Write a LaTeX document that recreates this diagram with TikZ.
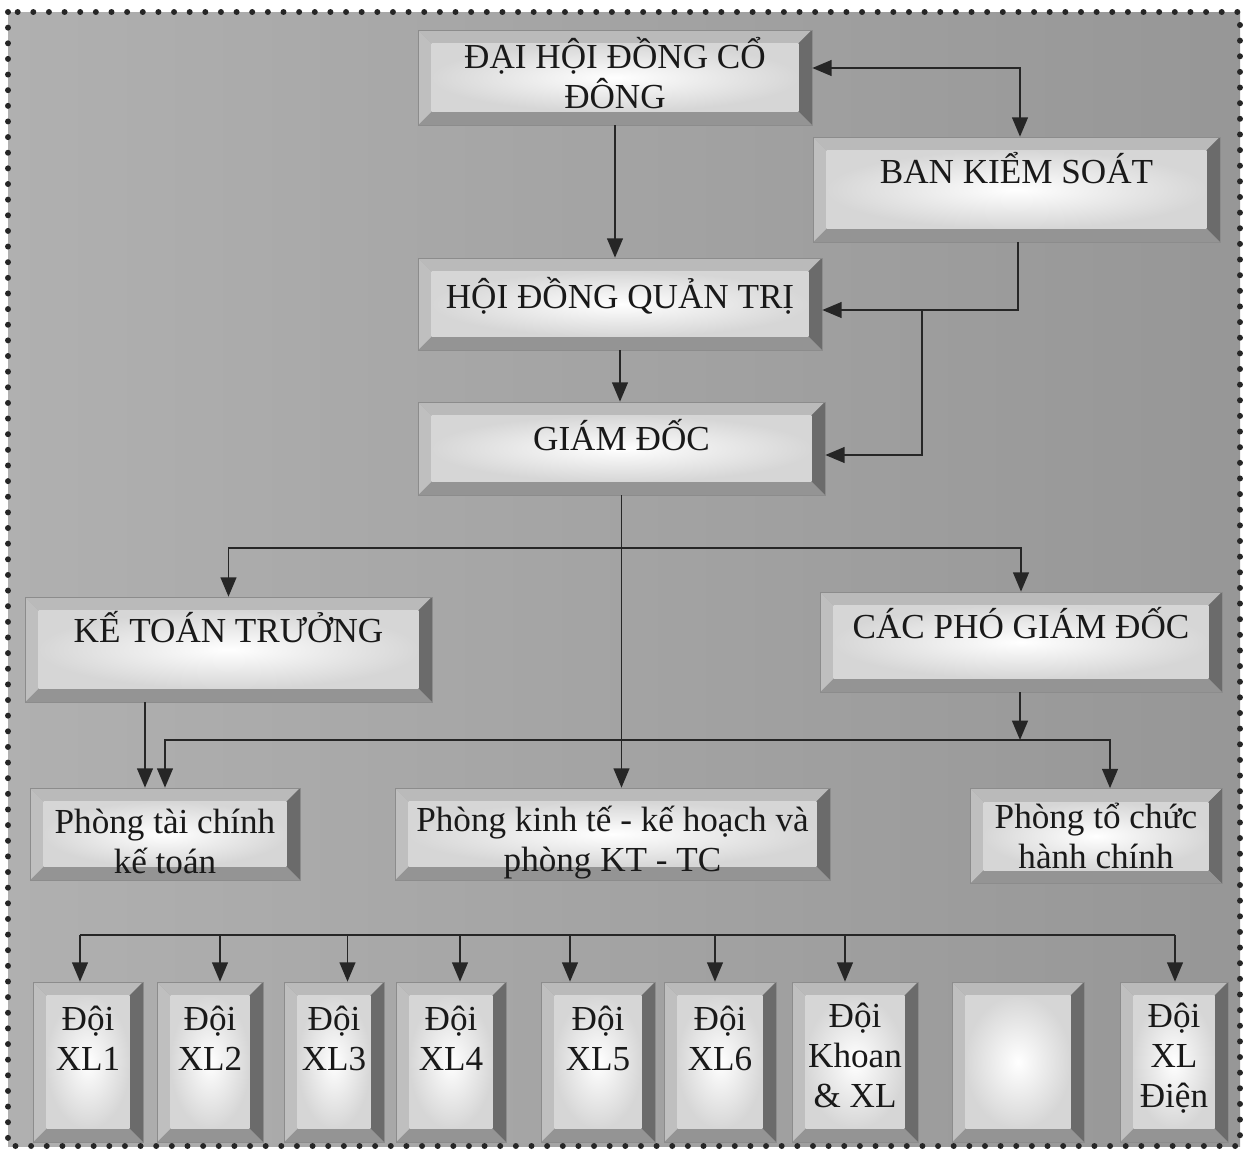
\documentclass[tikz,border=0pt]{standalone}
\usepackage{fontspec}
\setmainfont{Liberation Serif}
\usetikzlibrary{positioning, calc, arrows.meta, shadings}
\tikzstyle{Line} = [line width=1pt, draw=black!85]
\tikzstyle{Arrow} = [
%filled heads of the chart connectors
Line,
-{Triangle[length=11pt, width=9pt]}
]
\tikzstyle{DArrow} = [Line, {Triangle[length=11pt, width=9pt]}-{Triangle[length=11pt, width=9pt]}]
\newcommand{\bevw}{0.27cm}

\begin{document}
\begin{tikzpicture}[x=0.02cm, y=-0.02cm,
		panel/.style = {rectangle, draw=black!45, fill=black!40, inner sep=0pt, align=center,
			font=\fontsize{20}{22.7}\selectfont, text=black!90,
			path picture={
				\coordinate (pSW) at (path picture bounding box.south west);
				\coordinate (pNE) at (path picture bounding box.north east);
				\coordinate (pNW) at (path picture bounding box.north west);
				\coordinate (pSE) at (path picture bounding box.south east);
				% bevel faces
				\fill[black!27] (pNW) -- (pNE) -- ([shift={(-\bevw,-\bevw)}]pNE) -- ([shift={(\bevw,-\bevw)}]pNW) -- cycle;
				\fill[black!58] (pNE) -- (pSE) -- ([shift={(-\bevw,\bevw)}]pSE) -- ([shift={(-\bevw,-\bevw)}]pNE) -- cycle;
				\fill[black!42] (pSE) -- (pSW) -- ([shift={(\bevw,\bevw)}]pSW) -- ([shift={(-\bevw,\bevw)}]pSE) -- cycle;
				\fill[black!25] (pSW) -- (pNW) -- ([shift={(\bevw,-\bevw)}]pNW) -- ([shift={(\bevw,\bevw)}]pSW) -- cycle;
				\shade[inner color=white, outer color=black!16] ([shift={(\bevw,\bevw)}]pSW) rectangle ([shift={(-\bevw,-\bevw)}]pNE);
			}},
		two/.style = {panel, minimum height=1.84cm, text height=1.6cm},
		team/.style = {panel, minimum height=3.2cm, text height=1.6cm, text depth=1.28cm},
		team3/.style = {team, text height=2.4cm, text depth=0.6cm},
	]
	\useasboundingbox (0,0) rectangle (1248,1154);
	\shade[left color=black!31, middle color=black!46, right color=black!41] (8,12) rectangle (1240,1146);
	\draw[black!85, line width=3.4pt, dash pattern=on 0pt off 8.9pt, line cap=round] (8,12) rectangle (1240,1146);

	\node[panel, minimum width=7.88cm, minimum height=1.9cm, text height=1.4cm, text depth=0.18cm](DH) at (615,77.5){ĐẠI HỘI ĐỒNG CỔ\\ĐÔNG};
	\node[panel, minimum width=8.14cm, minimum height=2.1cm, text height=0.6cm, text depth=0.86cm](BK) at (1016.5,189.5){BAN KIỂM SOÁT};
	\node[panel, minimum width=8.08cm, minimum height=1.84cm, text height=0.6cm, text depth=0.44cm](HQ) at (620,304){HỘI ĐỒNG QUẢN TRỊ};
	\node[panel, minimum width=8.14cm, minimum height=1.86cm, text height=0.6cm, text depth=0.54cm](GD) at (621.5,448.5){GIÁM ĐỐC};
	\node[panel, minimum width=8.14cm, minimum height=2.1cm, text height=0.6cm, text depth=0.9cm](KT) at (228.5,649.5){KẾ TOÁN TRƯỞNG};
	\node[panel, minimum width=8.04cm, minimum height=2cm, text height=0.6cm, text depth=0.76cm](PG) at (1021,642){CÁC PHÓ GIÁM ĐỐC};
	\node[two, minimum width=5.4cm, text depth=0.02cm](TC) at (165,834){Phòng tài chính\\kế toán};
	\node[two, minimum width=8.7cm, text depth=0.12cm](KH) at (612.5,834){Phòng kinh tế - kế hoạch và\\phòng KT - TC};
	\node[two, minimum width=5.04cm, text depth=0.3cm](HC) at (1096,836){Phòng tổ chức\\hành chính};

	\node[team, minimum width=2.2cm](D1) at (88,1062){Đội\\XL1};
	\node[team, minimum width=2.12cm](D2) at (210,1062){Đội\\XL2};
	\node[team, minimum width=2cm](D3) at (334,1062){Đội\\XL3};
	\node[team, minimum width=2.2cm](D4) at (451,1062){Đội\\XL4};
	\node[team, minimum width=2.28cm](D5) at (598,1062){Đội\\XL5};
	\node[team, minimum width=2.24cm](D6) at (720,1062){Đội\\XL6};
	\node[team3, minimum width=2.52cm](D7) at (855,1062){Đội\\Khoan\\\& XL};
	\node[team, minimum width=2.64cm](D8) at (1018,1062){};
	\node[team3, minimum width=2.16cm](D9) at (1174,1062){Đội\\XL\\Điện};

	\coordinate (k1) at (1020,68);
	\coordinate (k2) at (1018,310);
	\coordinate (k3) at (922,455);
	\coordinate (m1) at (622,548);
	\coordinate (n1) at (145,702);
	\coordinate (p1) at (1020,740);
	\coordinate (q1) at (80,935);
	\coordinate (q2) at (1175,935);

	\draw[DArrow](DH.east |- k1)--(k1)--(k1 |- BK.north);
	\draw[Arrow](DH.south)--(DH.south |- HQ.north);
	\draw[Arrow](BK.south -| k2)--(k2)--(k2 -| HQ.east);
	\draw[Arrow](k3 |- k2)--(k3)--(k3 -| GD.east);
	\draw[Arrow](HQ.south)--(HQ.south |- GD.north);
	\draw[Arrow](GD.south)--(GD.south |- KH.north);
	\draw[Arrow](GD.south |- m1)-|(KT.north);
	\draw[Arrow](GD.south |- m1)-|(PG.north);
	\draw[Arrow](n1 |- KT.south)--(n1 |- TC.north);
	\draw[Arrow](PG.south -| p1)--(p1);
	\draw[Arrow](p1)-|(TC.north);
	\draw[Arrow](p1)-|([xshift=0.28cm]HC.north);

	\draw[Line](q1)--(q2);
	\draw[Arrow](q1)--(q1 |- D1.north);
	\draw[Arrow]([xshift=0.2cm]D2.north |- q1)--([xshift=0.2cm]D2.north);
	\draw[Arrow]([xshift=0.27cm]D3.north |- q1)--([xshift=0.27cm]D3.north);
	\draw[Arrow]([xshift=0.18cm]D4.north |- q1)--([xshift=0.18cm]D4.north);
	\draw[Arrow]([xshift=-0.56cm]D5.north |- q1)--([xshift=-0.56cm]D5.north);
	\draw[Arrow]([xshift=-0.1cm]D6.north |- q1)--([xshift=-0.1cm]D6.north);
	\draw[Arrow]([xshift=-0.2cm]D7.north |- q1)--([xshift=-0.2cm]D7.north);
	\draw[Arrow](q2)--(q2 |- D9.north);

\end{tikzpicture}
\end{document}
